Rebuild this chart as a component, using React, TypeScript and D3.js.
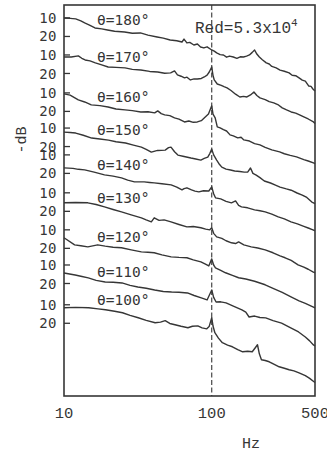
import React from 'react';
import * as d3 from 'd3';

const angles = [180, 170, 160, 150, 140, 130, 120, 110, 100];
const offsetDb = [0, 20, 40.5, 59.5, 74, 94.5, 114.5, 133.5, 155];
const tickDb = [10, 20];
const xTicks = [10, 100, 500];
const markerFreq = 100;

const s180: [number, number][] = [[10,10],[11,10.2],[12,10.5],[13,11.6],[13.8,12.7],[15,14],[16.2,15.4],[18,15.9],[19.7,16.5],[22,17.2],[25.7,17.6],[29,18.3],[32.9,18.1],[37,19.3],[42.7,20.3],[47,20.9],[52.3,21.9],[58,22.3],[62.9,23],[64.9,21.4],[67.9,23.5],[71,23.2],[75.7,24.6],[80,24.1],[84,25.7],[88.4,26.2],[93,25.6],[100,27.3],[104,27.9],[108,28.9],[114,29.8],[120,30],[126,31.2],[132,30.6],[140,31.1],[148,31.8],[156,31.0],[164,31.1],[172,30.6],[180,30],[188,28.6],[195,27.3],[202,29.5],[210,31.1],[220,32.6],[234,34.3],[245,34.9],[255,36.2],[273,37],[290,38.2],[310,38.8],[334,39.7],[350,41],[370,41.2],[390,42.4],[410,43.6],[430,44.1],[454,46.8],[470,47],[484,48.4],[500,49.5]];
const s170: [number, number][] = [[10,11.1],[11.2,11.1],[12.5,10.5],[13.2,11.8],[13.9,12.7],[15,13.2],[16.3,14.3],[18,15.4],[19.9,16.5],[22.5,16.7],[25.9,17],[29,17.8],[33.1,18.1],[38,18.9],[43.1,19.2],[48,19.9],[52.7,19.7],[56,18.6],[58.6,20.8],[62,21.5],[65.4,22.4],[68,22.0],[71.7,23.5],[76,22.9],[79.9,23],[85,22.7],[89,21.9],[93,20.9],[96.2,19.2],[100,16.5],[102,21],[104,23.5],[109,25.7],[116,26.4],[121,27.1],[127,27.8],[135,29.2],[145,31.2],[155,32.7],[164,32.4],[173,32.7],[183,31.6],[193,30],[202,31.9],[212,33.2],[230,34.1],[245,35.2],[263,35.9],[280,36.8],[300,38.6],[321,39.7],[345,40.8],[370,41.4],[393,42.4],[420,43.5],[450,44.6],[488,46.2],[500,47]];
const s160: [number, number][] = [[10,10.5],[11,11.2],[12.5,13.8],[13.8,14.9],[15.3,16.5],[17.5,16.9],[19.9,17.6],[22.5,18.7],[25.9,19.2],[29,19.6],[33.1,20.3],[37,20.2],[41.1,20.8],[43.1,19.7],[45.5,21.2],[48,21.9],[52,22.3],[56,23.5],[60,24.2],[65.4,25.7],[70,25.2],[75,25.9],[79.9,25.7],[85,25.0],[90.4,23],[95,21.4],[100,17],[102,21.5],[105.5,23.5],[109,28.4],[114,28.9],[120,29.9],[126,30.6],[133,32.7],[140,33.2],[150,34.3],[158,34.0],[165,35.4],[180,36],[195,37.4],[212,38.1],[230,39.4],[255,40.8],[288,41.9],[310,42.9],[340,43.8],[375,44.6],[420,46.1],[450,46.8],[488,47.8],[500,48.2]];
const s150: [number, number][] = [[10,12.2],[11,12.4],[12,12.7],[13.5,13.9],[15.4,15.4],[17.5,15.9],[20,16.5],[22.5,17.4],[26.1,18.1],[29.5,19.2],[33.4,20.3],[36,21.5],[39,23],[43,22.1],[48.4,21.9],[51,20.6],[53,20.3],[56,22.8],[59,24.6],[65,25.4],[72.3,26.2],[78,26.7],[84.4,27.3],[89,26.4],[94,25.7],[97,23.8],[100,21.4],[103,24.5],[108,27.3],[113,29.7],[117,31.1],[125,32.2],[134,32.7],[143,33.2],[155,33.5],[166,33.8],[175,33.8],[183,31.6],[190,34.5],[200,35.4],[212,36.8],[227,38.6],[250,39.7],[270,40.8],[290,41.9],[320,42.9],[345,43.6],[378,45.1],[410,46.2],[440,47.5],[476,50],[500,50.8]];
const s140: [number, number][] = [[10,17],[11.5,17.3],[12.5,17.8],[13.8,18.1],[16,19.3],[18.8,20.8],[21.5,21.5],[24.5,22.4],[27,23.6],[30,24.6],[34.9,24.6],[38,24.9],[40.8,25.1],[46,25.6],[53.1,26.2],[58,27.4],[62.9,28.9],[65,28.2],[67.9,27.8],[73,28.9],[77,29.6],[81.8,30],[88,29.4],[95.5,29.5],[100,27.3],[103,31],[106,33.2],[115,33.8],[125,35.1],[136,35.9],[145,34.9],[152,37.3],[159,38.1],[175,38.6],[195,39.7],[212,40.2],[230,40.8],[255,42],[282,43.5],[310,44.6],[344,46.2],[380,47.3],[420,48.6],[450,49.5],[484,50.5],[500,51]];
const s130: [number, number][] = [[10,15.4],[12,15.2],[14.5,15.4],[16.5,16.3],[18.8,17.6],[21.5,19.0],[24.5,20.3],[28.5,21.9],[33.4,23.5],[36,24.6],[39,25.7],[40.8,23.5],[44,24.9],[47.6,24.6],[53,25.7],[60,27.1],[67.9,28.4],[75,28.2],[84.4,28.9],[91,29.6],[97,30],[100,28.9],[103,31.9],[108,33.8],[117,34.6],[125,35.9],[136,37],[145,37.4],[152,36.5],[165,38.1],[185,39.2],[205,39.8],[230,40.8],[260,42.4],[290,44.1],[314,45.1],[345,46.5],[384,48.9],[420,50.2],[450,51.3],[484,52.7],[500,53.2]];
const s120: [number, number][] = [[10,14.3],[11.8,18.1],[13,18.6],[14.5,19.2],[16.9,18.1],[19,18.8],[21.5,19.4],[24.5,19.7],[28.5,20.8],[33.4,21.9],[37,22.1],[40.8,22.4],[46,23.5],[53.1,24.6],[60,24.9],[67.9,25.1],[75,26.2],[84.4,27.3],[90,28.4],[95.5,29.5],[100,25.7],[103,29],[106,30.5],[115,31.9],[124,33.2],[138,34.6],[152,35.9],[170,36.6],[195,37.8],[230,39.7],[260,41.6],[300,43.8],[344,46.2],[390,48.4],[430,49.7],[484,51.6],[500,52.2]];
const s110: [number, number][] = [[10,14.3],[11.9,15.4],[13,16.1],[14.6,17],[16.5,18.3],[19,19.2],[21.5,19.3],[24.7,19.7],[28,21],[31.6,21.9],[36,22.6],[41.1,23.5],[47,24.3],[53.5,24.6],[60,24.7],[68.5,25.1],[76,26.5],[85,27.8],[93,28.9],[100,23.5],[103,27.5],[107,30],[115,29.9],[125,30.5],[140,32.2],[160,34.3],[170,35.5],[179,38.1],[195,37.6],[212,38.4],[232,38.6],[260,40.1],[297,41.4],[340,43.8],[387,46.2],[430,48.9],[460,51],[488,53.2],[500,53.8]];
const s100: [number, number][] = [[10,11.6],[12,11.4],[14.7,11.6],[17,12.2],[19.1,12.7],[22,13.5],[24.9,14.3],[28,15.7],[31.8,17],[36,18.4],[41.4,19.7],[45,19.4],[48.4,18.6],[52,20.1],[56.4,20.8],[62,21.6],[69,22.4],[74,21.6],[80.5,21.4],[86,22.5],[92.6,23],[96,21.8],[100,17],[102,21.5],[105,25.1],[111,28],[118,30.5],[128,31.8],[138,32.7],[150,34.2],[162,35.4],[175,35.1],[188,35.4],[196,33.5],[204,31.6],[210,36.5],[217,39.7],[230,40.1],[245,40.8],[265,42.2],[286,43.5],[310,44.3],[334,45.1],[360,45.7],[390,46.8],[430,48.3],[460,49.8],[492,51.6],[500,52]];

const spectra = [s180, s170, s160, s150, s140, s130, s120, s110, s100];

export default function App() {
  const W = 327, H = 453;
  const left = 64, right = 315, top = 5, bottom = 396;
  const x = d3.scaleLog().domain([10, 500]).range([left, right]);
  const y = d3.scaleLinear().domain([3, 214.3]).range([top, bottom]);
  const ink = '#363636';
  const sans = '"DejaVu Sans Mono", monospace';
  const mono = '"Liberation Mono", monospace';
  const bis = d3.bisector((d: [number, number]) => d[0]).left;
  const at = (s: [number, number][], f: number) => {
    const i = Math.max(1, bis(s, f));
    const a = s[i - 1], b = s[i];
    const t = (Math.log(f) - Math.log(a[0])) / (Math.log(b[0]) - Math.log(a[0]));
    return a[1] + t * (b[1] - a[1]);
  };

  return (
    <svg width={W} height={H} style={{ position: 'absolute', left: 0, top: 0, background: '#fff' }}>
      <rect x={left} y={top} width={right - left} height={bottom - top} fill="none" stroke={ink} strokeWidth={1.6} />
      <line x1={x(markerFreq)} x2={x(markerFreq)} y1={top} y2={bottom} stroke={ink} strokeWidth={1.1} strokeDasharray="5,2.5" />
      {spectra.map((s, i) => {
        const off = offsetDb[i];
        const ln = d3.line<[number, number]>().x(d => x(d[0])).y(d => y(off + d[1]));
        const labelY = y(off + at(s, 20)) - 5;
        return (
          <g key={angles[i]}>
            <path d={ln(s) || ''} fill="none" stroke={ink} strokeWidth={1.4} strokeLinejoin="round" />
            {tickDb.map(t => (
              <g key={t}>
                <line x1={left} x2={left + 6} y1={y(off + t)} y2={y(off + t)} stroke={ink} strokeWidth={1.3} />
                <text x={57} y={y(off + t)} dy="0.36em" textAnchor="end" fontFamily={sans} fontSize={14} letterSpacing={0.5} fill={ink}>{t}</text>
              </g>
            ))}
            <text x={97} y={labelY} fontFamily={sans} fontSize={14.5} fill={ink}>{`θ=${angles[i]}°`}</text>
          </g>
        );
      })}
      <text x={195} y={33} fontFamily={mono} fontSize={16} fill={ink}>Red=5.3x10<tspan dy={-7} fontSize={11}>4</tspan></text>
      {xTicks.map(t => (
        <text key={t} x={x(t) + (t === 500 ? 0 : 0)} y={418} textAnchor="middle" fontFamily={mono} fontSize={15.5} fill={ink}>{t}</text>
      ))}
      <text x={251} y={448} textAnchor="middle" fontFamily={mono} fontSize={15} fill={ink}>Hz</text>
      <text transform="translate(26,140) rotate(-90)" textAnchor="middle" fontFamily={mono} fontSize={15} fill={ink}>-dB</text>
    </svg>
  );
}
